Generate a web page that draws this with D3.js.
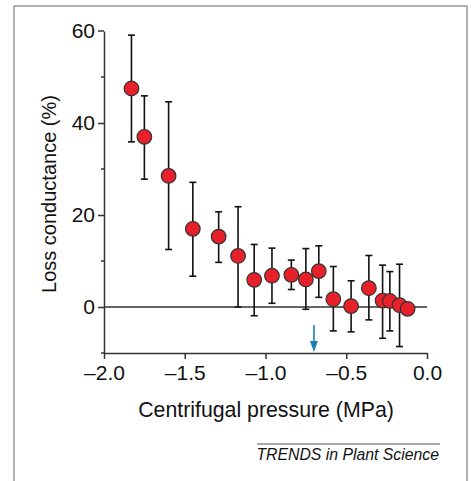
<!DOCTYPE html>
<html lang="en">
<head>
<meta charset="UTF-8">
<title>Loss conductance</title>
<script src="https://cdn.jsdelivr.net/npm/d3@7"></script>
<style>
body { margin: 0; background: #fff; }
text { font-family: "Liberation Sans", Arial, sans-serif; fill: #111; }
</style>
</head>
<body>
<svg width="471" height="481"></svg>
<script>
// values
var pressure = [-1.83, -1.75, -1.60, -1.45, -1.29, -1.17, -1.07, -0.96, -0.84, -0.75, -0.67, -0.58, -0.47, -0.36, -0.275, -0.23, -0.17, -0.12];
var loss     = [47.5, 37.0, 28.5, 17.0, 15.3, 11.1, 5.9, 6.8, 7.0, 6.0, 7.8, 1.7, 0.2, 4.1, 1.4, 1.3, 0.4, -0.4];
var errHigh  = [59.1, 45.9, 44.6, 27.1, 20.7, 21.8, 13.6, 12.8, 10.2, 12.7, 13.3, 8.8, 5.7, 11.2, 9.1, 7.7, 9.3, 0.1];
var errLow   = [35.9, 27.8, 12.5, 6.7, 9.7, 0.0, -1.9, 0.8, 3.8, -0.5, 2.1, -5.2, -5.4, -2.8, -6.8, -5.2, -8.6, -0.9];
var xTicks = [-2.0, -1.5, -1.0, -0.5, 0.0];
var yTicks = [0, 20, 40, 60];
var yMinor = [-10, 10, 30, 50];
var arrowAt = -0.7;

var data = pressure.map(function(p, i) {
    return {x: p, y: loss[i], hi: errHigh[i], lo: errLow[i]};
});

var svg = d3.select('svg');
var x = d3.scaleLinear().domain([-2, 0]).range([104, 427]);
var y = d3.scaleLinear().domain([-10, 60]).range([353, 31]);
var axisCol = '#333';

// frame
svg.append('rect')
    .attr('x', 14).attr('y', 6).attr('width', 453).attr('height', 520)
    .attr('fill', 'none').attr('stroke', '#8a8a8a').attr('stroke-width', 1.3);

// y axis
var gy = svg.append('g').attr('transform', 'translate(104,0)')
    .call(d3.axisLeft(y).tickValues(yTicks).tickSize(6).tickPadding(3).tickSizeOuter(0)
        .tickFormat(d3.format('d')));
gy.selectAll('.tick').filter(function(d) { return d === 60; }).select('line').remove();
gy.append('line').attr('x1', -6).attr('x2', 0).attr('y1', y(60)).attr('y2', y(60));
gy.selectAll('.tick line, line').attr('stroke', axisCol).attr('stroke-width', 1.5);
gy.select('.domain').attr('stroke', axisCol).attr('stroke-width', 1.5);
gy.selectAll('text').attr('font-size', 21).attr('fill', '#111');
gy.selectAll('.minor').data(yMinor).enter().append('line')
    .attr('class', 'minor')
    .attr('x1', -3).attr('x2', 0)
    .attr('y1', function(d) { return y(d); }).attr('y2', function(d) { return y(d); })
    .attr('stroke', axisCol).attr('stroke-width', 1.5);

// x axis
var gx = svg.append('g').attr('transform', 'translate(0,353)')
    .call(d3.axisBottom(x).tickValues(xTicks).tickSize(6).tickPadding(6).tickSizeOuter(0)
        .tickFormat(function(d) { return d3.format('.1f')(d).replace('-', '\u2013').replace('\u2212', '\u2013'); }));
gx.selectAll('line').attr('stroke', axisCol).attr('stroke-width', 1.5);
gx.select('.domain').attr('stroke', axisCol).attr('stroke-width', 1.5);
gx.selectAll('text').attr('font-size', 21).attr('fill', '#111');

// zero line
svg.append('line')
    .attr('x1', x(-2)).attr('x2', x(0)).attr('y1', y(0)).attr('y2', y(0))
    .attr('stroke', axisCol).attr('stroke-width', 1.4);

// axis titles
svg.append('text')
    .attr('x', 266).attr('y', 417).attr('text-anchor', 'middle')
    .attr('font-size', 21.3)
    .text('Centrifugal pressure (MPa)');
svg.append('text')
    .attr('transform', 'translate(56,194) rotate(-90)').attr('text-anchor', 'middle')
    .attr('font-size', 20)
    .text('Loss conductance (%)');

// error bars
var eb = svg.append('g').selectAll('g').data(data).enter().append('g')
    .attr('stroke', '#111').attr('stroke-width', 1.6);
eb.append('line')
    .attr('x1', function(d) { return x(d.x); }).attr('x2', function(d) { return x(d.x); })
    .attr('y1', function(d) { return y(d.hi); }).attr('y2', function(d) { return y(d.lo); });
eb.append('line')
    .attr('x1', function(d) { return x(d.x) - 3.5; }).attr('x2', function(d) { return x(d.x) + 3.5; })
    .attr('y1', function(d) { return y(d.hi); }).attr('y2', function(d) { return y(d.hi); });
eb.append('line')
    .attr('x1', function(d) { return x(d.x) - 3.5; }).attr('x2', function(d) { return x(d.x) + 3.5; })
    .attr('y1', function(d) { return y(d.lo); }).attr('y2', function(d) { return y(d.lo); });

// points
svg.append('g').selectAll('circle').data(data).enter().append('circle')
    .attr('cx', function(d) { return x(d.x); })
    .attr('cy', function(d) { return y(d.y); })
    .attr('r', 7.3)
    .attr('fill', '#e8202a').attr('stroke', '#333').attr('stroke-width', 1.2);

// arrow
var ax = x(arrowAt);
svg.append('line')
    .attr('x1', ax).attr('x2', ax).attr('y1', 325).attr('y2', 345)
    .attr('stroke', '#1f7fb5').attr('stroke-width', 1.6);
svg.append('path')
    .attr('d', 'M' + (ax - 4) + ',341 L' + (ax + 4) + ',341 L' + ax + ',352 Z')
    .attr('fill', '#1f7fb5');

// source line
svg.append('line')
    .attr('x1', 257).attr('x2', 440).attr('y1', 444).attr('y2', 444)
    .attr('stroke', '#555').attr('stroke-width', 1);
svg.append('text')
    .attr('x', 439).attr('y', 460).attr('text-anchor', 'end')
    .attr('font-size', 15.8).attr('font-style', 'italic').attr('fill', '#222')
    .text('TRENDS in Plant Science');
</script>
</body>
</html>
